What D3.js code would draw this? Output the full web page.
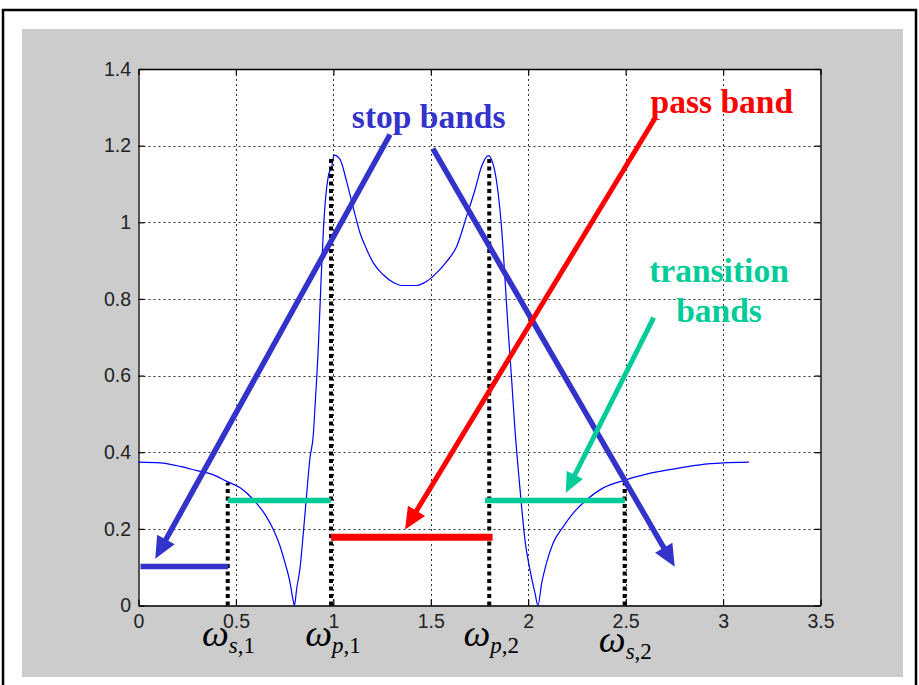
<!DOCTYPE html>
<html><head><meta charset="utf-8">
<script src="https://cdn.jsdelivr.net/npm/d3@7"></script>
<style>html,body{margin:0;padding:0;background:#fff;}svg{display:block;}</style>
</head><body>
<script>
// ---------- data ----------
const xTicks = [0, 0.5, 1, 1.5, 2, 2.5, 3, 3.5];
const xTickLabels = ["0", "0.5", "1", "1.5", "2", "2.5", "3", "3.5"];
const yTicks = [0, 0.2, 0.4, 0.6, 0.8, 1.0, 1.2, 1.4];
const yTickLabels = ["0", "0.2", "0.4", "0.6", "0.8", "1", "1.2", "1.4"];

// magnitude response |H(w)|
const curveW = [0.000,0.111,0.214,0.300,0.385,0.453,0.522,0.590,0.650,0.692,0.727,0.752,0.775,0.795,0.800,
  0.812,0.829,0.846,0.863,0.880,0.897,0.906,0.923,0.937,0.949,0.961,0.974,0.992,1.004,1.034,1.069,1.103,1.137,
  1.171,1.205,1.256,1.308,1.351,1.428,1.479,1.530,1.582,1.633,1.684,1.727,1.761,1.795,1.821,1.846,1.864,1.881,
  1.897,1.915,1.932,1.949,1.966,1.983,2.009,2.035,2.050,2.069,2.094,2.128,2.180,2.231,2.300,2.385,2.487,2.607,
  2.744,2.881,3.000,3.133];
const curveH = [0.374,0.372,0.363,0.352,0.341,0.324,0.307,0.276,0.237,0.198,0.154,0.111,0.067,0.010,0.000,
  0.045,0.098,0.190,0.290,0.385,0.445,0.520,0.676,0.850,0.981,1.068,1.120,1.146,1.175,1.164,1.105,1.036,0.972,
  0.929,0.894,0.863,0.843,0.835,0.835,0.846,0.868,0.898,0.937,1.016,1.085,1.146,1.174,1.150,1.075,0.981,0.850,
  0.720,0.589,0.459,0.354,0.258,0.172,0.093,0.032,0.000,0.058,0.111,0.163,0.206,0.241,0.276,0.307,0.326,0.343,
  0.356,0.367,0.372,0.374];

// band edges (dotted markers): frequency and height of marker
const edgeNames = ["s,1", "p,1", "p,2", "s,2"];
const edgeW = [0.458, 0.988, 1.800, 2.495];
const edgeTop = [0.320, 1.174, 1.174, 0.320];

// band bars: [w start, w end, level]
const barStart = [0.010, 0.458, 0.988, 1.778];
const barEnd   = [0.460, 0.987, 1.817, 2.496];
const barLevel = [0.102, 0.274, 0.178, 0.274];
const barKind  = ["stop", "trans", "pass", "trans"];

// annotation arrows: from (w0,h0) to tip (w1,h1)
const arrowKind = ["stop", "stop", "pass", "trans"];
const arrowW0 = [1.291, 1.511, 2.649, 2.644];
const arrowH0 = [1.229, 1.192, 1.270, 0.751];
const arrowW1 = [0.086, 2.752, 1.368, 2.193];
const arrowH1 = [0.122, 0.101, 0.198, 0.294];

// annotation texts
const noteText = ["stop bands", "pass band", "transition", "bands"];
const noteKind = ["stop", "pass", "trans", "trans"];
const noteW = [1.095, 2.628, 2.979, 2.979];
const noteH = [1.247, 1.286, 0.845, 0.741];

// ---------- drawing ----------
const W = 919, H = 685;
const colors = {stop: "#3333cc", pass: "#ff0000", trans: "#00cc99"};
const svg = d3.select("body").append("svg").attr("width", W).attr("height", H);

svg.append("rect").attr("width", W).attr("height", H).attr("fill", "#fff");
svg.append("path").attr("d", "M3,690 L3,10 L916,10 L916,690")
  .attr("fill", "none").attr("stroke", "#000").attr("stroke-width", 2.5);
svg.append("rect").attr("x", 22).attr("y", 29).attr("width", 881).attr("height", 648).attr("fill", "#cccccc");

const L = 138.5, R = 820.5, T = 69, B = 605.5;
const x = d3.scaleLinear().domain([0, 3.5]).range([L, R]);
const y = d3.scaleLinear().domain([0, 1.4]).range([B, T]);

svg.append("rect").attr("x", L).attr("y", T).attr("width", R - L).attr("height", B - T).attr("fill", "#fff");

// grid
const grid = svg.append("g").attr("stroke", "#333").attr("stroke-width", 1).attr("stroke-dasharray", "2,3");
grid.selectAll("line.gx").data(xTicks.slice(1, -1)).join("line")
  .attr("x1", d => Math.round(x(d)) + 0.5).attr("x2", d => Math.round(x(d)) + 0.5)
  .attr("y1", T).attr("y2", B);
grid.selectAll("line.gy").data(yTicks.slice(1, -1)).join("line")
  .attr("y1", d => Math.round(y(d)) + 0.5).attr("y2", d => Math.round(y(d)) + 0.5)
  .attr("x1", L).attr("x2", R);

// axes (MATLAB-style box with inward ticks)
const tickLen = 6;
const axFont = "'Liberation Sans', Arial, sans-serif";
const xAxisB = d3.axisBottom(x).tickValues(xTicks).tickSizeInner(-tickLen).tickSizeOuter(0)
  .tickPadding(14).tickFormat((d, i) => xTickLabels[i]);
const xAxisT = d3.axisTop(x).tickValues(xTicks).tickSizeInner(-tickLen).tickSizeOuter(0).tickFormat("");
const yAxisL = d3.axisLeft(y).tickValues(yTicks).tickSizeInner(-tickLen).tickSizeOuter(0)
  .tickPadding(14).tickFormat((d, i) => yTickLabels[i]);
const yAxisR = d3.axisRight(y).tickValues(yTicks).tickSizeInner(-tickLen).tickSizeOuter(0).tickFormat("");

function styleAxis(g) {
  g.select(".domain").attr("stroke", "#000").attr("stroke-width", 1.3);
  g.selectAll(".tick line").attr("stroke", "#000").attr("stroke-width", 1.2);
  g.selectAll(".tick text").attr("fill", "#222").style("font-family", axFont).style("font-size", "19.5px");
}
svg.append("g").attr("transform", `translate(0,${B})`).call(xAxisB).call(styleAxis)
  .selectAll(".tick text").attr("dy", "0.71em").attr("y", 9);
svg.append("g").attr("transform", `translate(0,${T})`).call(xAxisT).call(styleAxis);
svg.append("g").attr("transform", `translate(${L},0)`).call(yAxisL).call(styleAxis)
  .selectAll(".tick text").attr("x", -7.5);
svg.append("g").attr("transform", `translate(${R},0)`).call(yAxisR).call(styleAxis);

// curve
const pts = curveW.map((w, i) => [w, curveH[i]]);
svg.append("path").datum(pts)
  .attr("d", d3.line().x(d => x(d[0])).y(d => y(d[1])).curve(d3.curveMonotoneX))
  .attr("fill", "none").attr("stroke", "#0000ff").attr("stroke-width", 1.2);

// dotted edge markers
svg.append("g").selectAll("line").data(edgeW).join("line")
  .attr("x1", d => x(d)).attr("x2", d => x(d))
  .attr("y1", B).attr("y2", (d, i) => y(edgeTop[i]))
  .attr("stroke", "#000").attr("stroke-width", 4).attr("stroke-dasharray", "4,3.5");

// band bars
svg.append("g").selectAll("line").data(barStart).join("line")
  .attr("x1", d => x(d)).attr("x2", (d, i) => x(barEnd[i]))
  .attr("y1", (d, i) => y(barLevel[i])).attr("y2", (d, i) => y(barLevel[i]))
  .attr("stroke", (d, i) => colors[barKind[i]])
  .attr("stroke-width", (d, i) => barKind[i] === "pass" ? 7 : 5.5);

// arrows
const ag = svg.append("g");
arrowW0.forEach((w0, i) => {
  const x0 = x(w0), y0 = y(arrowH0[i]), x1 = x(arrowW1[i]), y1 = y(arrowH1[i]);
  const c = colors[arrowKind[i]];
  const dx = x1 - x0, dy = y1 - y0, len = Math.hypot(dx, dy);
  const ux = dx / len, uy = dy / len;
  const hl = arrowKind[i] === "trans" ? 20 : 22, hw = arrowKind[i] === "trans" ? 9 : 10;
  const bx = x1 - ux * hl, by = y1 - uy * hl;
  ag.append("line").attr("x1", x0).attr("y1", y0).attr("x2", bx + ux * 2).attr("y2", by + uy * 2)
    .attr("stroke", c).attr("stroke-width", arrowKind[i] === "stop" ? 5.5 : 5);
  ag.append("path")
    .attr("d", `M${x1},${y1} L${bx - uy * hw},${by + ux * hw} L${bx + uy * hw},${by - ux * hw} Z`)
    .attr("fill", c);
});

// annotation texts
svg.append("g").selectAll("text").data(noteText).join("text")
  .attr("x", (d, i) => x(noteW[i])).attr("y", (d, i) => y(noteH[i]))
  .attr("text-anchor", (d, i) => noteKind[i] === "trans" ? "middle" : "start")
  .attr("fill", (d, i) => colors[noteKind[i]])
  .style("font-family", "'Liberation Serif', 'Times New Roman', serif")
  .style("font-weight", "bold").style("font-size", "33.5px")
  .text(d => d);

// omega labels under the axis
const lg = svg.append("g").style("font-family", "'Liberation Serif', 'Times New Roman', serif");
edgeW.forEach((w, i) => {
  const base = i === 3 ? 652 : 646;
  const xr = x(w) + 1;
  lg.append("text").attr("x", xr).attr("y", base).attr("text-anchor", "end")
    .style("font-style", "italic").style("font-size", "38px").attr("fill", "#000").text("ω");
  const parts = edgeNames[i].split(",");
  const t = lg.append("text").attr("x", xr).attr("y", base + 7).style("font-size", "23px").attr("fill", "#000");
  t.append("tspan").style("font-style", "italic").text(parts[0]);
  t.append("tspan").text("," + parts[1]);
});
</script>
</body></html>
